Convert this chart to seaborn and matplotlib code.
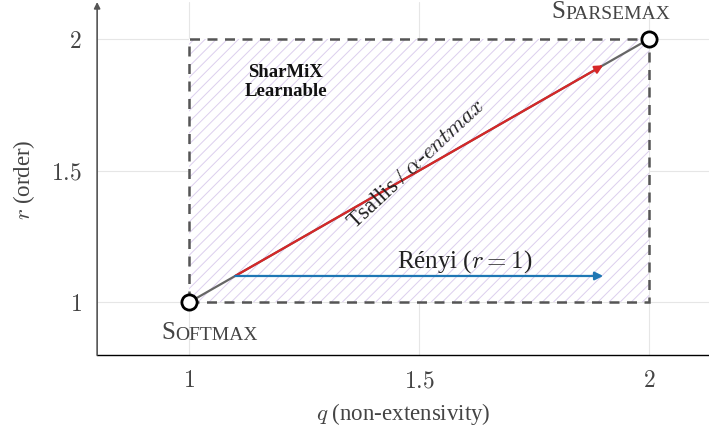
import matplotlib
matplotlib.use("Agg")
import matplotlib.pyplot as plt
import matplotlib.patches as mpatches
import pandas as pd
import seaborn as sns

# data
region_q = [1.0, 2.0]          # learnable region (q range)
region_r = [1.0, 2.0]          # learnable region (r range)
endpoint_names = ["Softmax", "Sparsemax"]
endpoint_q = [1.0, 2.0]
endpoint_r = [1.0, 2.0]
tsallis_start = (1.1, 1.1)
tsallis_end = (1.9, 1.9)
renyi_start = (1.1, 1.1)
renyi_end = (1.9, 1.1)
ticks = [1.0, 1.5, 2.0]
tick_labels = ["$1$", "$1.5$", "$2$"]

sns.set_theme(style="whitegrid")
plt.rcParams["font.family"] = ["Liberation Serif", "DejaVu Serif"]
plt.rcParams["mathtext.fontset"] = "cm"
plt.rcParams["hatch.linewidth"] = 0.7

fig = plt.figure(figsize=(7.09, 4.31), dpi=100)
ax = fig.add_axes([0.137, 0.174, 0.863, 0.819])
ax.set_facecolor("white")

# learnable region
rect = mpatches.Rectangle(
    (region_q[0], region_r[0]),
    region_q[1] - region_q[0],
    region_r[1] - region_r[0],
    facecolor="white",
    edgecolor="#dccfee",
    hatch="///",
    linewidth=0,
    zorder=1,
)
ax.add_patch(rect)
border = mpatches.Rectangle(
    (region_q[0], region_r[0]),
    region_q[1] - region_q[0],
    region_r[1] - region_r[0],
    fill=False,
    edgecolor="#555555",
    linestyle=(0, (4, 3)),
    linewidth=1.8,
    zorder=2,
)
ax.add_patch(border)

# diagonal between endpoints
df = pd.DataFrame({"q": endpoint_q, "r": endpoint_r, "name": endpoint_names})
sns.lineplot(data=df, x="q", y="r", color="#666666", linewidth=1.6, ax=ax, zorder=3)

# Tsallis and Renyi arrows
ax.annotate("", xy=tsallis_end, xytext=tsallis_start,
            arrowprops=dict(arrowstyle="-|>", color="#d62728", lw=1.6,
                            mutation_scale=12, shrinkA=0, shrinkB=0), zorder=4)
ax.annotate("", xy=renyi_end, xytext=renyi_start,
            arrowprops=dict(arrowstyle="-|>", color="#1f77b4", lw=1.6,
                            mutation_scale=12, shrinkA=0, shrinkB=0), zorder=4)

sns.scatterplot(data=df, x="q", y="r", s=120, color="white", edgecolor="black",
                linewidth=2, ax=ax, zorder=5, clip_on=False)

# labels
ax.text(1.21, 1.84, "SharMiX\nLearnable", ha="center", va="center",
        fontsize=13.5, fontweight="bold", linespacing=1.1, color="#111111", zorder=6)
ax.text(1.495, 1.53, "Tsallis / $\\alpha$-$\\mathit{entmax}$", ha="center",
        va="center", rotation=43, fontsize=16.5, color="#222222", zorder=6)
ax.text(1.60, 1.16, "Rényi ($r = 1$)", ha="center", va="center",
        fontsize=18, color="#222222", zorder=6)


def small_caps(x, y, word, big=18, small=14):
    t = ax.text(x, y, word[0], fontsize=big, color="#444444", va="baseline")
    ax.annotate(word[1:].upper(), xy=(1, 0), xycoords=t, fontsize=small,
                color="#444444", va="bottom", ha="left")


small_caps(0.94, 0.865, endpoint_names[0])
small_caps(1.787, 2.083, endpoint_names[1])

# axes
ax.set_xlim(0.8, 2.13)
ax.set_ylim(0.8, 2.14)
ax.set_xticks(ticks)
ax.set_xticklabels(tick_labels)
ax.set_yticks(ticks)
ax.set_yticklabels(tick_labels)
ax.tick_params(axis="both", labelsize=17, labelcolor="#444444", direction="inout",
               length=6, width=0.8, color="#888888", pad=8)
ax.grid(True, color="#e6e6e6", linewidth=0.8)
ax.set_xlabel("$q$ (non-extensivity)", fontsize=16.5, color="#444444", labelpad=6)
ax.set_ylabel("$r$ (order)", fontsize=16.5, color="#444444", labelpad=10)

for side in ["top", "right", "left"]:
    ax.spines[side].set_visible(False)
ax.spines["bottom"].set_color("black")
ax.spines["bottom"].set_linewidth(1.0)
ax.annotate("", xy=(0, 1.0), xytext=(0, 0), xycoords="axes fraction",
            arrowprops=dict(arrowstyle="-|>", color="#555555", lw=1.2,
                            mutation_scale=9, shrinkA=0, shrinkB=0))

fig.savefig("out.png", dpi=100)
plt.close(fig)
